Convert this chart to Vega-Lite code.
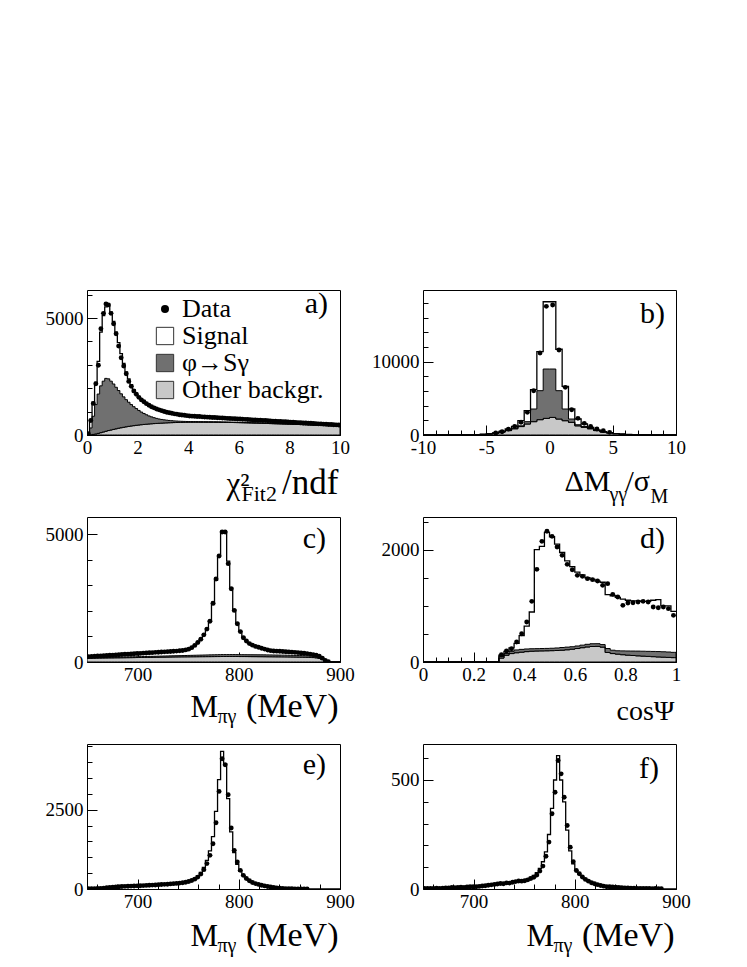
{
"$schema": "https://vega.github.io/schema/vega-lite/v6.json",
"padding": {"left": 44, "top": 288, "right": 5, "bottom": 5},
"background": "white",
"config": {
 "font": "Liberation Serif",
 "view": {"stroke": "black", "strokeWidth": 1},
 "axis": {"domain": false, "grid": false, "labelFont": "Liberation Serif", "labelFontSize": 19, "labelColor": "black", "tickColor": "black", "tickWidth": 1, "titleFont": "Liberation Serif", "titleFontWeight": "normal", "titleColor": "black", "titleFontSize": 32, "zindex": 1, "labelFlush": false, "labelOverlap": false, "titleAngle": 0, "titleBaseline": "alphabetic", "titlePadding": 0},
 "title": {"font": "Liberation Serif", "fontWeight": "normal", "fontSize": 30, "color": "black", "anchor": "end", "frame": "group", "baseline": "alphabetic"}
},
"datasets": {
 "a": [
  {"x":0,"d":null,"t":80,"p":40,"b":0},
  {"x":0.05,"d":60,"t":80,"p":40,"b":0},
  {"x":0.15,"d":620,"t":650,"p":300,"b":10},
  {"x":0.25,"d":1350,"t":1400,"p":800,"b":25},
  {"x":0.35,"d":2190,"t":2250,"p":1300,"b":45},
  {"x":0.45,"d":2980,"t":3150,"p":1750,"b":70},
  {"x":0.55,"d":4540,"t":4400,"p":2100,"b":100},
  {"x":0.65,"d":5200,"t":5100,"p":2300,"b":130},
  {"x":0.75,"d":5600,"t":5480,"p":2420,"b":160},
  {"x":0.85,"d":5560,"t":5500,"p":2400,"b":190},
  {"x":0.95,"d":5200,"t":5250,"p":2300,"b":215},
  {"x":1.05,"d":4750,"t":4850,"p":2180,"b":240},
  {"x":1.15,"d":4330,"t":4400,"p":2040,"b":265},
  {"x":1.25,"d":3800,"t":3950,"p":1900,"b":290},
  {"x":1.35,"d":3300,"t":3480,"p":1760,"b":310},
  {"x":1.45,"d":2950,"t":3060,"p":1630,"b":330},
  {"x":1.55,"d":2620,"t":2700,"p":1510,"b":350},
  {"x":1.65,"d":2290,"t":2400,"p":1400,"b":370},
  {"x":1.75,"d":2080,"t":2150,"p":1300,"b":385},
  {"x":1.85,"d":1880,"t":1940,"p":1210,"b":400},
  {"x":1.95,"d":1740,"t":1770,"p":1130,"b":415},
  {"x":2.05,"d":1610,"t":1630,"p":1050,"b":428},
  {"x":2.15,"d":1500,"t":1510,"p":980,"b":440},
  {"x":2.25,"d":1420,"t":1410,"p":920,"b":452},
  {"x":2.35,"d":1340,"t":1330,"p":865,"b":462},
  {"x":2.45,"d":1270,"t":1260,"p":815,"b":472},
  {"x":2.55,"d":1210,"t":1200,"p":775,"b":480},
  {"x":2.65,"d":1160,"t":1150,"p":740,"b":488},
  {"x":2.75,"d":1110,"t":1105,"p":710,"b":495},
  {"x":2.85,"d":1075,"t":1065,"p":685,"b":502},
  {"x":2.95,"d":1040,"t":1030,"p":665,"b":508},
  {"x":3.05,"d":1005,"t":1000,"p":648,"b":514},
  {"x":3.15,"d":975,"t":970,"p":634,"b":519},
  {"x":3.25,"d":950,"t":945,"p":622,"b":524},
  {"x":3.35,"d":930,"t":922,"p":612,"b":528},
  {"x":3.45,"d":905,"t":900,"p":603,"b":532},
  {"x":3.55,"d":890,"t":882,"p":596,"b":535},
  {"x":3.65,"d":868,"t":865,"p":590,"b":538},
  {"x":3.75,"d":855,"t":850,"p":585,"b":540},
  {"x":3.85,"d":842,"t":836,"p":581,"b":542},
  {"x":3.95,"d":826,"t":823,"p":578,"b":544},
  {"x":4.05,"d":815,"t":810,"p":575,"b":545},
  {"x":4.15,"d":805,"t":803,"p":574,"b":545},
  {"x":4.25,"d":800,"t":797,"p":573,"b":546},
  {"x":4.35,"d":790,"t":790,"p":572,"b":546},
  {"x":4.45,"d":788,"t":784,"p":571,"b":546},
  {"x":4.55,"d":776,"t":777,"p":570,"b":546},
  {"x":4.65,"d":772,"t":771,"p":569,"b":546},
  {"x":4.75,"d":762,"t":764,"p":568,"b":545},
  {"x":4.85,"d":760,"t":758,"p":567,"b":545},
  {"x":4.95,"d":750,"t":751,"p":566,"b":545},
  {"x":5.05,"d":748,"t":745,"p":565,"b":544},
  {"x":5.15,"d":736,"t":738,"p":563,"b":543},
  {"x":5.25,"d":733,"t":732,"p":561,"b":542},
  {"x":5.35,"d":724,"t":725,"p":559,"b":541},
  {"x":5.45,"d":720,"t":719,"p":557,"b":540},
  {"x":5.55,"d":710,"t":712,"p":555,"b":538},
  {"x":5.65,"d":708,"t":706,"p":553,"b":536},
  {"x":5.75,"d":698,"t":699,"p":551,"b":534},
  {"x":5.85,"d":695,"t":693,"p":548,"b":532},
  {"x":5.95,"d":685,"t":686,"p":545,"b":530},
  {"x":6.05,"d":682,"t":680,"p":542,"b":527},
  {"x":6.15,"d":672,"t":673,"p":539,"b":524},
  {"x":6.25,"d":668,"t":667,"p":536,"b":521},
  {"x":6.35,"d":660,"t":660,"p":533,"b":518},
  {"x":6.45,"d":655,"t":654,"p":529,"b":515},
  {"x":6.55,"d":645,"t":647,"p":526,"b":512},
  {"x":6.65,"d":642,"t":641,"p":523,"b":509},
  {"x":6.75,"d":632,"t":634,"p":519,"b":506},
  {"x":6.85,"d":630,"t":628,"p":516,"b":503},
  {"x":6.95,"d":620,"t":621,"p":512,"b":500},
  {"x":7.05,"d":617,"t":615,"p":508,"b":496},
  {"x":7.15,"d":606,"t":608,"p":504,"b":492},
  {"x":7.25,"d":604,"t":602,"p":500,"b":488},
  {"x":7.35,"d":594,"t":595,"p":496,"b":484},
  {"x":7.45,"d":590,"t":589,"p":492,"b":480},
  {"x":7.55,"d":580,"t":582,"p":489,"b":477},
  {"x":7.65,"d":578,"t":576,"p":486,"b":474},
  {"x":7.75,"d":568,"t":569,"p":482,"b":471},
  {"x":7.85,"d":565,"t":563,"p":479,"b":468},
  {"x":7.95,"d":555,"t":556,"p":475,"b":465},
  {"x":8.05,"d":552,"t":550,"p":471,"b":461},
  {"x":8.15,"d":542,"t":543,"p":467,"b":457},
  {"x":8.25,"d":540,"t":537,"p":463,"b":453},
  {"x":8.35,"d":529,"t":530,"p":459,"b":449},
  {"x":8.45,"d":526,"t":524,"p":455,"b":445},
  {"x":8.55,"d":515,"t":517,"p":451,"b":441},
  {"x":8.65,"d":512,"t":511,"p":447,"b":437},
  {"x":8.75,"d":502,"t":504,"p":443,"b":433},
  {"x":8.85,"d":500,"t":498,"p":439,"b":429},
  {"x":8.95,"d":490,"t":491,"p":435,"b":425},
  {"x":9.05,"d":486,"t":485,"p":431,"b":421},
  {"x":9.15,"d":476,"t":478,"p":427,"b":417},
  {"x":9.25,"d":474,"t":472,"p":423,"b":413},
  {"x":9.35,"d":463,"t":465,"p":419,"b":409},
  {"x":9.45,"d":460,"t":459,"p":415,"b":405},
  {"x":9.55,"d":450,"t":452,"p":411,"b":401},
  {"x":9.65,"d":447,"t":446,"p":407,"b":397},
  {"x":9.75,"d":437,"t":439,"p":403,"b":393},
  {"x":9.85,"d":434,"t":433,"p":399,"b":389},
  {"x":9.95,"d":425,"t":426,"p":395,"b":385},
  {"x":10,"d":null,"t":426,"p":395,"b":385}
 ],
 "b": [
  {"x":-10,"d":null,"t":0,"p":0,"b":0},
  {"x":-7.75,"d":null,"t":0,"p":0,"b":0},
  {"x":-7.25,"d":null,"t":5,"p":5,"b":5},
  {"x":-6.75,"d":null,"t":12,"p":12,"b":12},
  {"x":-6.25,"d":null,"t":25,"p":25,"b":25},
  {"x":-5.75,"d":null,"t":50,"p":50,"b":50},
  {"x":-5.25,"d":null,"t":90,"p":90,"b":90},
  {"x":-4.75,"d":null,"t":160,"p":155,"b":150},
  {"x":-4.25,"d":270,"t":290,"p":265,"b":250},
  {"x":-3.75,"d":450,"t":500,"p":420,"b":400},
  {"x":-3.25,"d":800,"t":820,"p":650,"b":600},
  {"x":-2.75,"d":1180,"t":1180,"p":950,"b":850},
  {"x":-2.25,"d":1730,"t":1950,"p":1250,"b":1150},
  {"x":-1.75,"d":3090,"t":3320,"p":1820,"b":1500},
  {"x":-1.25,"d":6045,"t":6180,"p":3545,"b":1820},
  {"x":-0.75,"d":11180,"t":11360,"p":6045,"b":2090},
  {"x":-0.25,"d":17550,"t":18180,"p":9000,"b":2270},
  {"x":0.25,"d":17730,"t":18180,"p":9000,"b":2400},
  {"x":0.75,"d":11590,"t":11700,"p":6045,"b":2180},
  {"x":1.25,"d":6500,"t":6640,"p":3545,"b":1950},
  {"x":1.75,"d":3450,"t":3545,"p":2180,"b":1730},
  {"x":2.25,"d":2270,"t":2180,"p":1400,"b":1250},
  {"x":2.75,"d":1590,"t":1500,"p":1150,"b":1050},
  {"x":3.25,"d":1180,"t":1045,"p":900,"b":850},
  {"x":3.75,"d":820,"t":680,"p":620,"b":600},
  {"x":4.25,"d":590,"t":450,"p":430,"b":420},
  {"x":4.75,"d":360,"t":320,"p":300,"b":290},
  {"x":5.25,"d":null,"t":200,"p":190,"b":185},
  {"x":5.75,"d":null,"t":120,"p":115,"b":110},
  {"x":6.25,"d":null,"t":70,"p":65,"b":65},
  {"x":6.75,"d":null,"t":40,"p":40,"b":40},
  {"x":7.25,"d":null,"t":20,"p":20,"b":20},
  {"x":7.75,"d":null,"t":8,"p":8,"b":8},
  {"x":8.25,"d":null,"t":0,"p":0,"b":0},
  {"x":10,"d":null,"t":0,"p":0,"b":0}
 ],
 "c": [
  {"x":650,"d":null,"t":212,"p":175,"b":150},
  {"x":651.5,"d":210,"t":212,"p":175,"b":150},
  {"x":654.5,"d":218,"t":216,"p":177,"b":152},
  {"x":657.5,"d":224,"t":222,"p":179,"b":153},
  {"x":660.5,"d":233,"t":230,"p":181,"b":155},
  {"x":663.5,"d":240,"t":238,"p":183,"b":156},
  {"x":666.5,"d":246,"t":246,"p":185,"b":158},
  {"x":669.5,"d":257,"t":254,"p":187,"b":159},
  {"x":672.5,"d":262,"t":262,"p":189,"b":161},
  {"x":675.5,"d":271,"t":270,"p":191,"b":162},
  {"x":678.5,"d":277,"t":278,"p":193,"b":164},
  {"x":681.5,"d":286,"t":285,"p":195,"b":165},
  {"x":684.5,"d":291,"t":292,"p":197,"b":167},
  {"x":687.5,"d":301,"t":300,"p":199,"b":168},
  {"x":690.5,"d":307,"t":308,"p":201,"b":170},
  {"x":693.5,"d":316,"t":315,"p":203,"b":171},
  {"x":696.5,"d":321,"t":322,"p":205,"b":173},
  {"x":699.5,"d":331,"t":330,"p":207,"b":175},
  {"x":702.5,"d":337,"t":338,"p":210,"b":176},
  {"x":705.5,"d":346,"t":345,"p":213,"b":178},
  {"x":708.5,"d":351,"t":352,"p":216,"b":180},
  {"x":711.5,"d":361,"t":360,"p":219,"b":182},
  {"x":714.5,"d":367,"t":368,"p":222,"b":184},
  {"x":717.5,"d":377,"t":376,"p":225,"b":186},
  {"x":720.5,"d":383,"t":384,"p":228,"b":188},
  {"x":723.5,"d":393,"t":392,"p":231,"b":190},
  {"x":726.5,"d":397,"t":398,"p":234,"b":192},
  {"x":729.5,"d":406,"t":405,"p":237,"b":194},
  {"x":732.5,"d":411,"t":412,"p":240,"b":196},
  {"x":735.5,"d":421,"t":420,"p":243,"b":198},
  {"x":738.5,"d":427,"t":428,"p":246,"b":200},
  {"x":741.5,"d":439,"t":438,"p":249,"b":201},
  {"x":744.5,"d":451,"t":452,"p":252,"b":202},
  {"x":747.5,"d":473,"t":472,"p":255,"b":203},
  {"x":750.5,"d":504,"t":505,"p":258,"b":204},
  {"x":753.5,"d":561,"t":560,"p":261,"b":205},
  {"x":756.5,"d":650,"t":655,"p":264,"b":206},
  {"x":759.5,"d":762,"t":765,"p":267,"b":207},
  {"x":762.5,"d":888,"t":895,"p":270,"b":208},
  {"x":765.5,"d":1062,"t":1070,"p":273,"b":209},
  {"x":768.5,"d":1288,"t":1300,"p":276,"b":210},
  {"x":771.5,"d":1598,"t":1620,"p":279,"b":211},
  {"x":774.5,"d":2300,"t":2250,"p":282,"b":212},
  {"x":777.5,"d":3250,"t":3200,"p":285,"b":213},
  {"x":780.5,"d":4150,"t":4150,"p":288,"b":214},
  {"x":783.5,"d":5090,"t":5100,"p":290,"b":215},
  {"x":786.5,"d":5090,"t":5100,"p":290,"b":215},
  {"x":789.5,"d":3850,"t":3950,"p":290,"b":215},
  {"x":792.5,"d":2870,"t":2900,"p":290,"b":215},
  {"x":795.5,"d":2020,"t":2050,"p":290,"b":215},
  {"x":798.5,"d":1500,"t":1520,"p":289,"b":215},
  {"x":801.5,"d":1190,"t":1200,"p":288,"b":214},
  {"x":804.5,"d":950,"t":970,"p":287,"b":214},
  {"x":807.5,"d":820,"t":830,"p":286,"b":213},
  {"x":810.5,"d":720,"t":725,"p":285,"b":212},
  {"x":813.5,"d":660,"t":660,"p":284,"b":211},
  {"x":816.5,"d":610,"t":610,"p":283,"b":210},
  {"x":819.5,"d":575,"t":572,"p":282,"b":209},
  {"x":822.5,"d":540,"t":538,"p":281,"b":208},
  {"x":825.5,"d":505,"t":508,"p":280,"b":207},
  {"x":828.5,"d":470,"t":478,"p":278,"b":206},
  {"x":831.5,"d":445,"t":452,"p":276,"b":205},
  {"x":834.5,"d":432,"t":435,"p":274,"b":204},
  {"x":837.5,"d":425,"t":424,"p":272,"b":203},
  {"x":840.5,"d":418,"t":416,"p":270,"b":202},
  {"x":843.5,"d":410,"t":409,"p":268,"b":201},
  {"x":846.5,"d":403,"t":402,"p":266,"b":200},
  {"x":849.5,"d":396,"t":394,"p":264,"b":198},
  {"x":852.5,"d":388,"t":386,"p":262,"b":196},
  {"x":855.5,"d":378,"t":377,"p":259,"b":194},
  {"x":858.5,"d":368,"t":367,"p":256,"b":192},
  {"x":861.5,"d":356,"t":356,"p":252,"b":190},
  {"x":864.5,"d":343,"t":343,"p":248,"b":187},
  {"x":867.5,"d":328,"t":328,"p":243,"b":184},
  {"x":870.5,"d":310,"t":310,"p":236,"b":180},
  {"x":873.5,"d":290,"t":290,"p":226,"b":174},
  {"x":876.5,"d":262,"t":262,"p":210,"b":164},
  {"x":879.5,"d":225,"t":225,"p":185,"b":145},
  {"x":882.5,"d":150,"t":150,"p":130,"b":105},
  {"x":885.5,"d":60,"t":60,"p":50,"b":40},
  {"x":888.5,"d":10,"t":10,"p":8,"b":6},
  {"x":891.5,"d":null,"t":0,"p":0,"b":0},
  {"x":900,"d":null,"t":0,"p":0,"b":0}
 ],
 "d": [
  {"x":0,"d":null,"t":0,"p":0,"b":0},
  {"x":0.27,"d":null,"t":0,"p":0,"b":0},
  {"x":0.29,"d":null,"t":0,"p":0,"b":0},
  {"x":0.31,"d":130,"t":120,"p":100,"b":70},
  {"x":0.33,"d":196,"t":190,"p":150,"b":120},
  {"x":0.35,"d":237,"t":250,"p":190,"b":150},
  {"x":0.37,"d":356,"t":330,"p":215,"b":165},
  {"x":0.39,"d":504,"t":470,"p":225,"b":175},
  {"x":0.41,"d":712,"t":640,"p":232,"b":185},
  {"x":0.43,"d":1080,"t":890,"p":236,"b":192},
  {"x":0.45,"d":1650,"t":2000,"p":238,"b":196},
  {"x":0.47,"d":2148,"t":2060,"p":240,"b":198},
  {"x":0.49,"d":2327,"t":2310,"p":242,"b":200},
  {"x":0.51,"d":2237,"t":2230,"p":245,"b":202},
  {"x":0.53,"d":2048,"t":2100,"p":250,"b":205},
  {"x":0.55,"d":1899,"t":1950,"p":258,"b":210},
  {"x":0.57,"d":1739,"t":1800,"p":265,"b":218},
  {"x":0.59,"d":1644,"t":1700,"p":272,"b":228},
  {"x":0.61,"d":1543,"t":1600,"p":285,"b":240},
  {"x":0.63,"d":1525,"t":1550,"p":300,"b":255},
  {"x":0.65,"d":1484,"t":1500,"p":315,"b":268},
  {"x":0.67,"d":1466,"t":1470,"p":325,"b":276},
  {"x":0.69,"d":1442,"t":1440,"p":326,"b":279},
  {"x":0.71,"d":1365,"t":1420,"p":310,"b":265},
  {"x":0.73,"d":1395,"t":1200,"p":240,"b":170},
  {"x":0.75,"d":1205,"t":1180,"p":210,"b":150},
  {"x":0.77,"d":1157,"t":1150,"p":200,"b":140},
  {"x":0.79,"d":1009,"t":1120,"p":198,"b":130},
  {"x":0.81,"d":1050,"t":1100,"p":196,"b":122},
  {"x":0.83,"d":1056,"t":1090,"p":195,"b":116},
  {"x":0.85,"d":1068,"t":1090,"p":194,"b":110},
  {"x":0.87,"d":1080,"t":1080,"p":192,"b":105},
  {"x":0.89,"d":1068,"t":1080,"p":190,"b":100},
  {"x":0.91,"d":979,"t":1100,"p":188,"b":95},
  {"x":0.93,"d":967,"t":1110,"p":186,"b":90},
  {"x":0.95,"d":979,"t":1000,"p":182,"b":86},
  {"x":0.97,"d":950,"t":1000,"p":178,"b":82},
  {"x":0.99,"d":831,"t":900,"p":172,"b":78},
  {"x":1,"d":null,"t":900,"p":172,"b":78}
 ],
 "e": [
  {"x":650,"d":null,"t":6},
  {"x":651.5,"d":8,"t":6},{"x":654.5,"d":10,"t":9},{"x":657.5,"d":12,"t":12},{"x":660.5,"d":15,"t":16},
  {"x":663.5,"d":20,"t":21},{"x":666.5,"d":28,"t":28},{"x":669.5,"d":38,"t":37},{"x":672.5,"d":48,"t":47},
  {"x":675.5,"d":58,"t":57},{"x":678.5,"d":66,"t":65},{"x":681.5,"d":72,"t":72},{"x":684.5,"d":78,"t":78},
  {"x":687.5,"d":83,"t":83},{"x":690.5,"d":88,"t":88},{"x":693.5,"d":92,"t":92},{"x":696.5,"d":96,"t":96},
  {"x":699.5,"d":100,"t":100},{"x":702.5,"d":104,"t":104},{"x":705.5,"d":108,"t":108},{"x":708.5,"d":113,"t":113},
  {"x":711.5,"d":118,"t":118},{"x":714.5,"d":123,"t":123},{"x":717.5,"d":128,"t":128},{"x":720.5,"d":134,"t":134},
  {"x":723.5,"d":140,"t":140},{"x":726.5,"d":146,"t":146},{"x":729.5,"d":152,"t":152},{"x":732.5,"d":160,"t":160},
  {"x":735.5,"d":168,"t":168},{"x":738.5,"d":176,"t":178},{"x":741.5,"d":186,"t":190},{"x":744.5,"d":198,"t":205},
  {"x":747.5,"d":214,"t":225},{"x":750.5,"d":236,"t":250},{"x":753.5,"d":266,"t":285},{"x":756.5,"d":310,"t":335},
  {"x":759.5,"d":375,"t":410},{"x":762.5,"d":470,"t":520},{"x":765.5,"d":610,"t":680},{"x":768.5,"d":800,"t":900},
  {"x":771.5,"d":1060,"t":1200},{"x":774.5,"d":1428,"t":1650},{"x":777.5,"d":2090,"t":2450},{"x":780.5,"d":3077,"t":3450},
  {"x":783.5,"d":4105,"t":4340},{"x":786.5,"d":3915,"t":3950},{"x":789.5,"d":2971,"t":2850},{"x":792.5,"d":1921,"t":1800},
  {"x":795.5,"d":1218,"t":1150},{"x":798.5,"d":850,"t":780},{"x":801.5,"d":588,"t":560},{"x":804.5,"d":430,"t":420},
  {"x":807.5,"d":330,"t":320},{"x":810.5,"d":260,"t":255},{"x":813.5,"d":205,"t":200},{"x":816.5,"d":170,"t":165},
  {"x":819.5,"d":145,"t":138},{"x":822.5,"d":120,"t":115},{"x":825.5,"d":98,"t":95},{"x":828.5,"d":80,"t":78},
  {"x":831.5,"d":62,"t":62},{"x":834.5,"d":46,"t":48},{"x":837.5,"d":33,"t":36},{"x":840.5,"d":24,"t":26},
  {"x":843.5,"d":17,"t":19},{"x":846.5,"d":12,"t":13},{"x":849.5,"d":8,"t":9},{"x":852.5,"d":6,"t":6},
  {"x":855.5,"d":4,"t":4},{"x":858.5,"d":3,"t":3},{"x":861.5,"d":2,"t":2},{"x":864.5,"d":2,"t":2},
  {"x":867.5,"d":1,"t":1},{"x":870.5,"d":null,"t":1},{"x":873.5,"d":null,"t":0},
  {"x":900,"d":null,"t":0}
 ],
 "f": [
  {"x":650,"d":null,"t":2},
  {"x":651.5,"d":2,"t":2},{"x":654.5,"d":3,"t":2},{"x":657.5,"d":2,"t":3},{"x":660.5,"d":3,"t":3},
  {"x":663.5,"d":4,"t":3},{"x":666.5,"d":3,"t":4},{"x":669.5,"d":4,"t":4},{"x":672.5,"d":5,"t":5},
  {"x":675.5,"d":5,"t":5},{"x":678.5,"d":7,"t":6},{"x":681.5,"d":6,"t":6},{"x":684.5,"d":7,"t":7},
  {"x":687.5,"d":8,"t":8},{"x":690.5,"d":7,"t":8},{"x":693.5,"d":9,"t":9},{"x":696.5,"d":10,"t":10},
  {"x":699.5,"d":10,"t":11},{"x":702.5,"d":11,"t":12},{"x":705.5,"d":12,"t":13},{"x":708.5,"d":14,"t":14},
  {"x":711.5,"d":15,"t":15},{"x":714.5,"d":17,"t":17},{"x":717.5,"d":19,"t":19},{"x":720.5,"d":21,"t":20},
  {"x":723.5,"d":23,"t":22},{"x":726.5,"d":25,"t":24},{"x":729.5,"d":24,"t":26},{"x":732.5,"d":28,"t":28},
  {"x":735.5,"d":27,"t":30},{"x":738.5,"d":31,"t":32},{"x":741.5,"d":34,"t":34},{"x":744.5,"d":37,"t":36},
  {"x":747.5,"d":36,"t":38},{"x":750.5,"d":38,"t":41},{"x":753.5,"d":42,"t":46},{"x":756.5,"d":48,"t":53},
  {"x":759.5,"d":54,"t":62},{"x":762.5,"d":64,"t":75},{"x":765.5,"d":82,"t":95},{"x":768.5,"d":105,"t":125},
  {"x":771.5,"d":150,"t":170},{"x":774.5,"d":215,"t":250},{"x":777.5,"d":345,"t":370},{"x":780.5,"d":444,"t":500},
  {"x":783.5,"d":589,"t":612},{"x":786.5,"d":528,"t":500},{"x":789.5,"d":421,"t":400},{"x":792.5,"d":291,"t":270},
  {"x":795.5,"d":192,"t":175},{"x":798.5,"d":125,"t":115},{"x":801.5,"d":85,"t":85},{"x":804.5,"d":70,"t":68},
  {"x":807.5,"d":55,"t":55},{"x":810.5,"d":44,"t":45},{"x":813.5,"d":36,"t":37},{"x":816.5,"d":29,"t":30},
  {"x":819.5,"d":24,"t":24},{"x":822.5,"d":20,"t":19},{"x":825.5,"d":16,"t":15},{"x":828.5,"d":13,"t":12},
  {"x":831.5,"d":11,"t":10},{"x":834.5,"d":10,"t":8},{"x":837.5,"d":9,"t":7},{"x":840.5,"d":8,"t":6},
  {"x":843.5,"d":7,"t":5},{"x":846.5,"d":6,"t":4},{"x":849.5,"d":5,"t":4},{"x":852.5,"d":5,"t":3},
  {"x":855.5,"d":4,"t":3},{"x":858.5,"d":4,"t":2},{"x":861.5,"d":3,"t":2},{"x":864.5,"d":3,"t":2},
  {"x":867.5,"d":2,"t":1},{"x":870.5,"d":2,"t":1},{"x":873.5,"d":2,"t":1},{"x":876.5,"d":1,"t":1},
  {"x":879.5,"d":2,"t":1},{"x":882.5,"d":1,"t":0},{"x":885.5,"d":1,"t":0},{"x":888.5,"d":null,"t":0},
  {"x":900,"d":null,"t":0}
 ]
},
"columns": 2,
"spacing": {"row": 82, "column": 83},
"bounds": "flush",
"resolve": {"scale": {"fill": "independent"}, "legend": {"fill": "independent"}},
"concat": [
  {
   "width": 253, "height": 145,
   "data": {"name": "a"},
   "title": {"text": "a)", "offset": -29, "dx": -12},
   "resolve": {"axis": {"x": "independent", "y": "independent"}},
   "layer": [
    {"mark": {"type": "area", "interpolate": "step", "clip": true, "fillOpacity": 1},
     "encoding": {
      "x": {"field": "x", "type": "quantitative", "scale": {"domain": [0, 10], "nice": false, "zero": false}, "axis": null},
      "y": {"field": "t", "type": "quantitative", "scale": {"domain": [0, 6197], "nice": false, "zero": false}, "axis": null},
      "y2": {"field": "p"},
      "fill": {"datum": "Signal", "type": "nominal",
        "scale": {"domain": ["Data", "Signal", "φ→Sγ", "Other backgr."], "range": ["black", "white", "#707070", "#c8c8c8"]},
        "legend": {"orient": "none", "legendX": 65, "legendY": 6, "title": null, "labelFontSize": 26, "labelFont": "Liberation Serif", "labelColor": "black", "symbolType": "square", "symbolSize": 300, "symbolStrokeColor": "#333", "symbolStrokeWidth": 1, "rowPadding": 1, "labelOffset": 4, "padding": 0, "labelLimit": 400,
          "encode": {"symbols": {"update": {"shape": {"signal": "datum.value === 'Data' ? 'circle' : 'square'"}, "size": {"signal": "datum.value === 'Data' ? 64 : 300"}, "stroke": {"value": "#333"}, "strokeWidth": {"signal": "datum.value === 'Data' ? 0 : 1"}}}}}}
     }},
    {"mark": {"type": "area", "interpolate": "step", "clip": true, "fillOpacity": 1, "stroke": "black", "strokeWidth": 1},
     "encoding": {
      "x": {"field": "x", "type": "quantitative", "scale": {"domain": [0, 10], "nice": false, "zero": false},
        "axis": {"orient": "bottom", "values": [0, 2, 4, 6, 8, 10], "tickSize": -10, "labelPadding": 13, "format": "d", "title": "/ndf", "titleX": 251, "titleY": 58, "titleAlign": "right", "titleFontSize": 35}},
      "y": {"field": "b", "type": "quantitative", "scale": {"domain": [0, 6197], "nice": false, "zero": false},
        "axis": {"orient": "left", "values": [0, 5000], "tickSize": -10, "labelPadding": 14, "format": "d", "title": null}},
      "fill": {"datum": "Other backgr.", "type": "nominal", "scale": {"domain": ["Data", "Signal", "φ→Sγ", "Other backgr."], "range": ["black", "white", "#707070", "#c8c8c8"]}}
     }},
    {"mark": {"type": "area", "interpolate": "step", "clip": true, "fillOpacity": 1, "stroke": "black", "strokeWidth": 1},
     "encoding": {
      "x": {"field": "x", "type": "quantitative", "scale": {"domain": [0, 10], "nice": false, "zero": false},
        "axis": {"orient": "bottom", "values": [0, 0.5, 1, 1.5, 2, 2.5, 3, 3.5, 4, 4.5, 5, 5.5, 6, 6.5, 7, 7.5, 8, 8.5, 9, 9.5, 10], "tickSize": -5, "labels": false, "title": "χ²", "titleX": 139, "titleY": 58, "titleAlign": "left", "titleFontSize": 31}},
      "y": {"field": "p", "type": "quantitative", "scale": {"domain": [0, 6197], "nice": false, "zero": false},
        "axis": {"orient": "left", "values": [0, 1000, 2000, 3000, 4000, 5000, 6000], "tickSize": -5, "labels": false, "title": "Fit2", "titleX": 154, "titleY": 210, "titleAlign": "left", "titleFontSize": 22}},
      "y2": {"field": "b"},
      "fill": {"datum": "φ→Sγ", "type": "nominal", "scale": {"domain": ["Data", "Signal", "φ→Sγ", "Other backgr."], "range": ["black", "white", "#707070", "#c8c8c8"]}}
     }},
    {"mark": {"type": "line", "interpolate": "step", "clip": true, "color": "black", "strokeWidth": 1.3},
     "encoding": {
      "x": {"field": "x", "type": "quantitative", "scale": {"domain": [0, 10], "nice": false, "zero": false}, "axis": null},
      "y": {"field": "t", "type": "quantitative", "scale": {"domain": [0, 6197], "nice": false, "zero": false}, "axis": null}
     }},
    {"mark": {"type": "circle", "size": 24, "opacity": 1, "clip": true},
     "encoding": {
      "x": {"field": "x", "type": "quantitative", "scale": {"domain": [0, 10], "nice": false, "zero": false}, "axis": null},
      "y": {"field": "d", "type": "quantitative", "scale": {"domain": [0, 6197], "nice": false, "zero": false}, "axis": null},
      "fill": {"datum": "Data", "type": "nominal", "scale": {"domain": ["Data", "Signal", "φ→Sγ", "Other backgr."], "range": ["black", "white", "#707070", "#c8c8c8"]}}
     }}
   ]
  },
  {
   "width": 253, "height": 145,
   "data": {"name": "b"},
   "title": {"text": "b)", "offset": -39, "dx": -11},
   "resolve": {"axis": {"x": "independent", "y": "independent"}},
   "layer": [
    {"mark": {"type": "area", "interpolate": "step", "clip": true, "color": "#c8c8c8", "opacity": 1, "stroke": "black", "strokeWidth": 1},
     "encoding": {
      "x": {"field": "x", "type": "quantitative", "scale": {"domain": [-10, 10], "nice": false, "zero": false},
        "axis": {"orient": "bottom", "values": [-10, -5, 0, 5, 10], "tickSize": -10, "labelPadding": 13, "format": "d", "labelExpr": "replace(datum.label, '−', '-')", "title": "ΔM", "titleX": 141, "titleY": 55, "titleAlign": "left", "titleFontSize": 30}},
      "y": {"field": "b", "type": "quantitative", "scale": {"domain": [0, 19780], "nice": false, "zero": false},
        "axis": {"orient": "left", "values": [0, 10000], "tickSize": -10, "labelPadding": 14, "format": "d", "title": "γγ", "titleX": 186, "titleY": 210, "titleAlign": "left", "titleFontSize": 20}}
     }},
    {"mark": {"type": "area", "interpolate": "step", "clip": true, "color": "#707070", "opacity": 1, "stroke": "black", "strokeWidth": 1},
     "encoding": {
      "x": {"field": "x", "type": "quantitative", "scale": {"domain": [-10, 10], "nice": false, "zero": false},
        "axis": {"orient": "bottom", "values": [-10, -9, -8, -7, -6, -5, -4, -3, -2, -1, 0, 1, 2, 3, 4, 5, 6, 7, 8, 9, 10], "tickSize": -5, "labels": false, "title": "/σ", "titleX": 202, "titleY": 55, "titleAlign": "left", "titleFontSize": 30}},
      "y": {"field": "p", "type": "quantitative", "scale": {"domain": [0, 19780], "nice": false, "zero": false},
        "axis": {"orient": "left", "values": [0, 2000, 4000, 6000, 8000, 10000, 12000, 14000, 16000, 18000], "tickSize": -5, "labels": false, "title": "M", "titleX": 227, "titleY": 212, "titleAlign": "left", "titleFontSize": 20}},
      "y2": {"field": "b"}
     }},
    {"mark": {"type": "line", "interpolate": "step", "clip": true, "color": "black", "strokeWidth": 1.3},
     "encoding": {
      "x": {"field": "x", "type": "quantitative", "scale": {"domain": [-10, 10], "nice": false, "zero": false}, "axis": null},
      "y": {"field": "t", "type": "quantitative", "scale": {"domain": [0, 19780], "nice": false, "zero": false}, "axis": null}
     }},
    {"mark": {"type": "circle", "size": 24, "opacity": 1, "color": "black", "clip": true},
     "encoding": {
      "x": {"field": "x", "type": "quantitative", "scale": {"domain": [-10, 10], "nice": false, "zero": false}, "axis": null},
      "y": {"field": "d", "type": "quantitative", "scale": {"domain": [0, 19780], "nice": false, "zero": false}, "axis": null}
     }}
   ]
  },
  {
   "width": 253, "height": 145,
   "data": {"name": "c"},
   "title": {"text": "c)", "offset": -37, "dx": -14},
   "resolve": {"axis": {"x": "independent", "y": "independent"}},
   "layer": [
    {"mark": {"type": "area", "interpolate": "step", "clip": true, "color": "#c8c8c8", "opacity": 1, "stroke": "black", "strokeWidth": 1},
     "encoding": {
      "x": {"field": "x", "type": "quantitative", "scale": {"domain": [650, 900], "nice": false, "zero": false},
        "axis": {"orient": "bottom", "values": [700, 800, 900], "tickSize": -10, "labelPadding": 13, "format": "d", "title": "(MeV)", "titleX": 251, "titleY": 54, "titleAlign": "right", "titleFontSize": 34}},
      "y": {"field": "b", "type": "quantitative", "scale": {"domain": [0, 5677], "nice": false, "zero": false},
        "axis": {"orient": "left", "values": [0, 5000], "tickSize": -10, "labelPadding": 14, "format": "d", "title": null}}
     }},
    {"mark": {"type": "area", "interpolate": "step", "clip": true, "color": "#707070", "opacity": 1, "stroke": "black", "strokeWidth": 1},
     "encoding": {
      "x": {"field": "x", "type": "quantitative", "scale": {"domain": [650, 900], "nice": false, "zero": false},
        "axis": {"orient": "bottom", "values": [660, 680, 700, 720, 740, 760, 780, 800, 820, 840, 860, 880, 900], "tickSize": -5, "labels": false, "title": "M", "titleX": 103, "titleY": 54, "titleAlign": "left", "titleFontSize": 31}},
      "y": {"field": "p", "type": "quantitative", "scale": {"domain": [0, 5677], "nice": false, "zero": false},
        "axis": {"orient": "left", "values": [0, 1000, 2000, 3000, 4000, 5000], "tickSize": -5, "labels": false, "title": "πγ", "titleX": 130, "titleY": 205, "titleAlign": "left", "titleFontSize": 20}},
      "y2": {"field": "b"}
     }},
    {"mark": {"type": "line", "interpolate": "step", "clip": true, "color": "black", "strokeWidth": 1.3},
     "encoding": {
      "x": {"field": "x", "type": "quantitative", "scale": {"domain": [650, 900], "nice": false, "zero": false}, "axis": null},
      "y": {"field": "t", "type": "quantitative", "scale": {"domain": [0, 5677], "nice": false, "zero": false}, "axis": null}
     }},
    {"mark": {"type": "circle", "size": 24, "opacity": 1, "color": "black", "clip": true},
     "encoding": {
      "x": {"field": "x", "type": "quantitative", "scale": {"domain": [650, 900], "nice": false, "zero": false}, "axis": null},
      "y": {"field": "d", "type": "quantitative", "scale": {"domain": [0, 5677], "nice": false, "zero": false}, "axis": null}
     }}
   ]
  },
  {
   "width": 253, "height": 145,
   "data": {"name": "d"},
   "title": {"text": "d)", "offset": -37, "dx": -11},
   "resolve": {"axis": {"x": "independent", "y": "independent"}},
   "layer": [
    {"mark": {"type": "area", "interpolate": "step", "clip": true, "color": "#c8c8c8", "opacity": 1, "stroke": "black", "strokeWidth": 1},
     "encoding": {
      "x": {"field": "x", "type": "quantitative", "scale": {"domain": [0, 1], "nice": false, "zero": false},
        "axis": {"orient": "bottom", "values": [0, 0.2, 0.4, 0.6, 0.8, 1], "tickSize": -10, "labelPadding": 13, "format": ".1~f", "title": "cosΨ", "titleX": 251, "titleY": 57, "titleAlign": "right", "titleFontSize": 28}},
      "y": {"field": "b", "type": "quantitative", "scale": {"domain": [0, 2582], "nice": false, "zero": false},
        "axis": {"orient": "left", "values": [0, 2000], "tickSize": -10, "labelPadding": 14, "format": "d", "title": null}}
     }},
    {"mark": {"type": "area", "interpolate": "step", "clip": true, "color": "#707070", "opacity": 1, "stroke": "black", "strokeWidth": 1},
     "encoding": {
      "x": {"field": "x", "type": "quantitative", "scale": {"domain": [0, 1], "nice": false, "zero": false},
        "axis": {"orient": "bottom", "values": [0, 0.05, 0.1, 0.15, 0.2, 0.25, 0.3, 0.35, 0.4, 0.45, 0.5, 0.55, 0.6, 0.65, 0.7, 0.75, 0.8, 0.85, 0.9, 0.95, 1], "tickSize": -5, "labels": false, "title": null}},
      "y": {"field": "p", "type": "quantitative", "scale": {"domain": [0, 2582], "nice": false, "zero": false},
        "axis": {"orient": "left", "values": [0, 500, 1000, 1500, 2000, 2500], "tickSize": -5, "labels": false, "title": null}},
      "y2": {"field": "b"}
     }},
    {"mark": {"type": "line", "interpolate": "step", "clip": true, "color": "black", "strokeWidth": 1.3},
     "encoding": {
      "x": {"field": "x", "type": "quantitative", "scale": {"domain": [0, 1], "nice": false, "zero": false}, "axis": null},
      "y": {"field": "t", "type": "quantitative", "scale": {"domain": [0, 2582], "nice": false, "zero": false}, "axis": null}
     }},
    {"mark": {"type": "circle", "size": 24, "opacity": 1, "color": "black", "clip": true},
     "encoding": {
      "x": {"field": "x", "type": "quantitative", "scale": {"domain": [0, 1], "nice": false, "zero": false}, "axis": null},
      "y": {"field": "d", "type": "quantitative", "scale": {"domain": [0, 2582], "nice": false, "zero": false}, "axis": null}
     }}
   ]
  },
  {
   "width": 253, "height": 145,
   "data": {"name": "e"},
   "title": {"text": "e)", "offset": -36, "dx": -14},
   "resolve": {"axis": {"x": "independent", "y": "independent"}},
   "layer": [
    {"mark": {"type": "line", "interpolate": "step", "clip": true, "color": "black", "strokeWidth": 1.3},
     "encoding": {
      "x": {"field": "x", "type": "quantitative", "scale": {"domain": [650, 900], "nice": false, "zero": false},
        "axis": {"orient": "bottom", "values": [700, 800, 900], "tickSize": -10, "labelPadding": 13, "format": "d", "title": "(MeV)", "titleX": 251, "titleY": 56, "titleAlign": "right", "titleFontSize": 34}},
      "y": {"field": "t", "type": "quantitative", "scale": {"domain": [0, 4571], "nice": false, "zero": false},
        "axis": {"orient": "left", "values": [0, 2500], "tickSize": -10, "labelPadding": 14, "format": "d", "title": null}}
     }},
    {"mark": {"type": "circle", "size": 24, "opacity": 1, "color": "black", "clip": true},
     "encoding": {
      "x": {"field": "x", "type": "quantitative", "scale": {"domain": [650, 900], "nice": false, "zero": false},
        "axis": {"orient": "bottom", "values": [660, 680, 700, 720, 740, 760, 780, 800, 820, 840, 860, 880, 900], "tickSize": -5, "labels": false, "title": "M", "titleX": 103, "titleY": 56, "titleAlign": "left", "titleFontSize": 31}},
      "y": {"field": "d", "type": "quantitative", "scale": {"domain": [0, 4571], "nice": false, "zero": false},
        "axis": {"orient": "left", "values": [0, 500, 1000, 1500, 2000, 2500, 3000, 3500, 4000, 4500], "tickSize": -5, "labels": false, "title": "πγ", "titleX": 130, "titleY": 207, "titleAlign": "left", "titleFontSize": 20}}
     }}
   ]
  },
  {
   "width": 253, "height": 145,
   "data": {"name": "f"},
   "title": {"text": "f)", "offset": -40, "dx": -17},
   "resolve": {"axis": {"x": "independent", "y": "independent"}},
   "layer": [
    {"mark": {"type": "line", "interpolate": "step", "clip": true, "color": "black", "strokeWidth": 1.3},
     "encoding": {
      "x": {"field": "x", "type": "quantitative", "scale": {"domain": [650, 900], "nice": false, "zero": false},
        "axis": {"orient": "bottom", "values": [700, 800, 900], "tickSize": -10, "labelPadding": 13, "format": "d", "title": "(MeV)", "titleX": 251, "titleY": 56, "titleAlign": "right", "titleFontSize": 34}},
      "y": {"field": "t", "type": "quantitative", "scale": {"domain": [0, 665], "nice": false, "zero": false},
        "axis": {"orient": "left", "values": [0, 500], "tickSize": -10, "labelPadding": 14, "format": "d", "title": null}}
     }},
    {"mark": {"type": "circle", "size": 24, "opacity": 1, "color": "black", "clip": true},
     "encoding": {
      "x": {"field": "x", "type": "quantitative", "scale": {"domain": [650, 900], "nice": false, "zero": false},
        "axis": {"orient": "bottom", "values": [660, 680, 700, 720, 740, 760, 780, 800, 820, 840, 860, 880, 900], "tickSize": -5, "labels": false, "title": "M", "titleX": 103, "titleY": 56, "titleAlign": "left", "titleFontSize": 31}},
      "y": {"field": "d", "type": "quantitative", "scale": {"domain": [0, 665], "nice": false, "zero": false},
        "axis": {"orient": "left", "values": [0, 100, 200, 300, 400, 500, 600], "tickSize": -5, "labels": false, "title": "πγ", "titleX": 130, "titleY": 207, "titleAlign": "left", "titleFontSize": 20}}
     }}
   ]
  }
]
}
